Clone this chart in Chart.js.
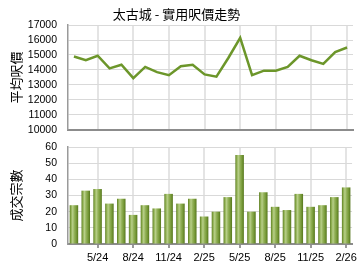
<!DOCTYPE html>
<html>
<head>
<meta charset="utf-8">
<script src="https://cdn.jsdelivr.net/npm/chart.js@4.4.1/dist/chart.umd.min.js"></script>
<style>
  body { margin: 0; background: #fff; }
  canvas { display: block; }
</style>
</head>
<body>
<canvas id="grafico-precio" width="360" height="136"></canvas>
<canvas id="grafico-ventas" width="360" height="134"></canvas>
<script>
const meses = ['3/24', '4/24', '5/24', '6/24', '7/24', '8/24', '9/24', '10/24', '11/24', '12/24', '1/25', '2/25',
               '3/25', '4/25', '5/25', '6/25', '7/25', '8/25', '9/25', '10/25', '11/25', '12/25', '1/26', '2/26'];
const precioMedio = [14900, 14650, 14950, 14100, 14350, 13450, 14200, 13850, 13650, 14250, 14350, 13700,
                     13550, 14800, 16150, 13650, 13950, 13950, 14200, 14950, 14650, 14400, 15200, 15500];
const transacciones = [24, 33, 34, 25, 28, 18, 24, 22, 31, 25, 28, 17,
                       20, 29, 55, 20, 32, 23, 21, 31, 23, 24, 29, 35];

const titulo = '太古城 - 實用呎價走勢';
const tituloPrecio = '平均呎價';
const tituloVentas = '成交宗數';

const fuenteNum = 'Liberation Sans, Arial, sans-serif';
const fuenteCJK = '"Noto Sans CJK TC", sans-serif';

function colorRejilla(context) {
    return context.index % 3 === 2 ? '#e4e4e4' : 'rgba(0,0,0,0)';
}

function etiquetaMes(value, index) {
    return index % 3 === 2 ? meses[index] : '';
}

function degradadoBarra(context) {
    const chart = context.chart;
    const escalaX = chart.scales.x;
    if (!escalaX || context.dataIndex === undefined) {
        return '#8aab4f';
    }
    const centro = escalaX.getPixelForValue(context.dataIndex);
    const ancho = escalaX.width / meses.length * 0.72;
    if (!isFinite(centro) || !isFinite(ancho) || ancho <= 0) {
        return '#8aab4f';
    }
    const g = chart.ctx.createLinearGradient(centro - ancho / 2, 0, centro + ancho / 2, 0);
    g.addColorStop(0, '#5a7b20');
    g.addColorStop(0.15, '#8aab4b');
    g.addColorStop(0.35, '#b8cf89');
    g.addColorStop(0.55, '#94b25a');
    g.addColorStop(0.78, '#779a38');
    g.addColorStop(1, '#55761d');
    return g;
}

function ejeX(conEtiquetas) {
    return {
        offset: true,
        afterFit: (scale) => { scale.height = conEtiquetas ? 26 : 0; },
        grid: {
            offset: false,
            color: colorRejilla,
            lineWidth: 2,
            drawTicks: conEtiquetas,
            tickLength: 4,
            tickColor: (ctx) => ctx.index % 3 === 2 ? '#999' : 'rgba(0,0,0,0)'
        },
        border: { color: '#8c8c8c', width: 2 },
        ticks: {
            display: conEtiquetas,
            autoSkip: false,
            maxRotation: 0,
            padding: 3,
            color: '#000',
            font: { family: fuenteNum, size: 11 },
            callback: etiquetaMes
        }
    };
}

function ejeY(min, max, paso, texto) {
    return {
        min: min,
        max: max,
        afterFit: (scale) => { scale.width = 68; },
        grid: { color: '#d9d9d9', lineWidth: 1, drawTicks: true, tickLength: 11, tickColor: 'rgba(0,0,0,0)' },
        border: { color: '#9a9a9a', width: 1.5 },
        ticks: {
            stepSize: paso,
            autoSkip: false,
            padding: 0,
            color: '#000',
            font: { family: fuenteNum, size: 10.5 },
            callback: (value) => String(value)
        },
        title: {
            display: true,
            text: texto,
            color: '#000',
            padding: { top: 8, bottom: 0 },
            font: { family: fuenteCJK, size: 13 }
        }
    };
}

function mostrarPrecio() {
    const ctx = document.getElementById('grafico-precio');
    new Chart(ctx, {
        type: 'line',
        data: {
            labels: meses,
            datasets: [{
                data: precioMedio,
                borderColor: '#6c962a',
                borderWidth: 2.5,
                pointRadius: 0,
                tension: 0,
                fill: false
            }]
        },
        options: {
            responsive: false,
            animation: false,
            layout: { padding: { left: 0, right: 7, top: 0, bottom: 0 } },
            plugins: {
                legend: { display: false },
                tooltip: { enabled: false },
                title: {
                    display: true,
                    text: titulo,
                    color: '#000',
                    padding: { top: 6, bottom: 3.5 },
                    font: { family: fuenteCJK, size: 13, weight: 'normal' }
                }
            },
            scales: {
                x: ejeX(false),
                y: ejeY(10000, 17000, 1000, tituloPrecio)
            }
        }
    });
}

function mostrarVentas() {
    const ctx = document.getElementById('grafico-ventas');
    new Chart(ctx, {
        type: 'bar',
        data: {
            labels: meses,
            datasets: [{
                data: transacciones,
                backgroundColor: degradadoBarra,
                borderWidth: 0,
                barPercentage: 0.72,
                categoryPercentage: 1
            }]
        },
        options: {
            responsive: false,
            animation: false,
            layout: { padding: { left: 0, right: 7, top: 11, bottom: 0 } },
            plugins: {
                legend: { display: false },
                tooltip: { enabled: false }
            },
            scales: {
                x: ejeX(true),
                y: ejeY(0, 60, 10, tituloVentas)
            }
        }
    });
}

mostrarPrecio();
mostrarVentas();
</script>
</body>
</html>
